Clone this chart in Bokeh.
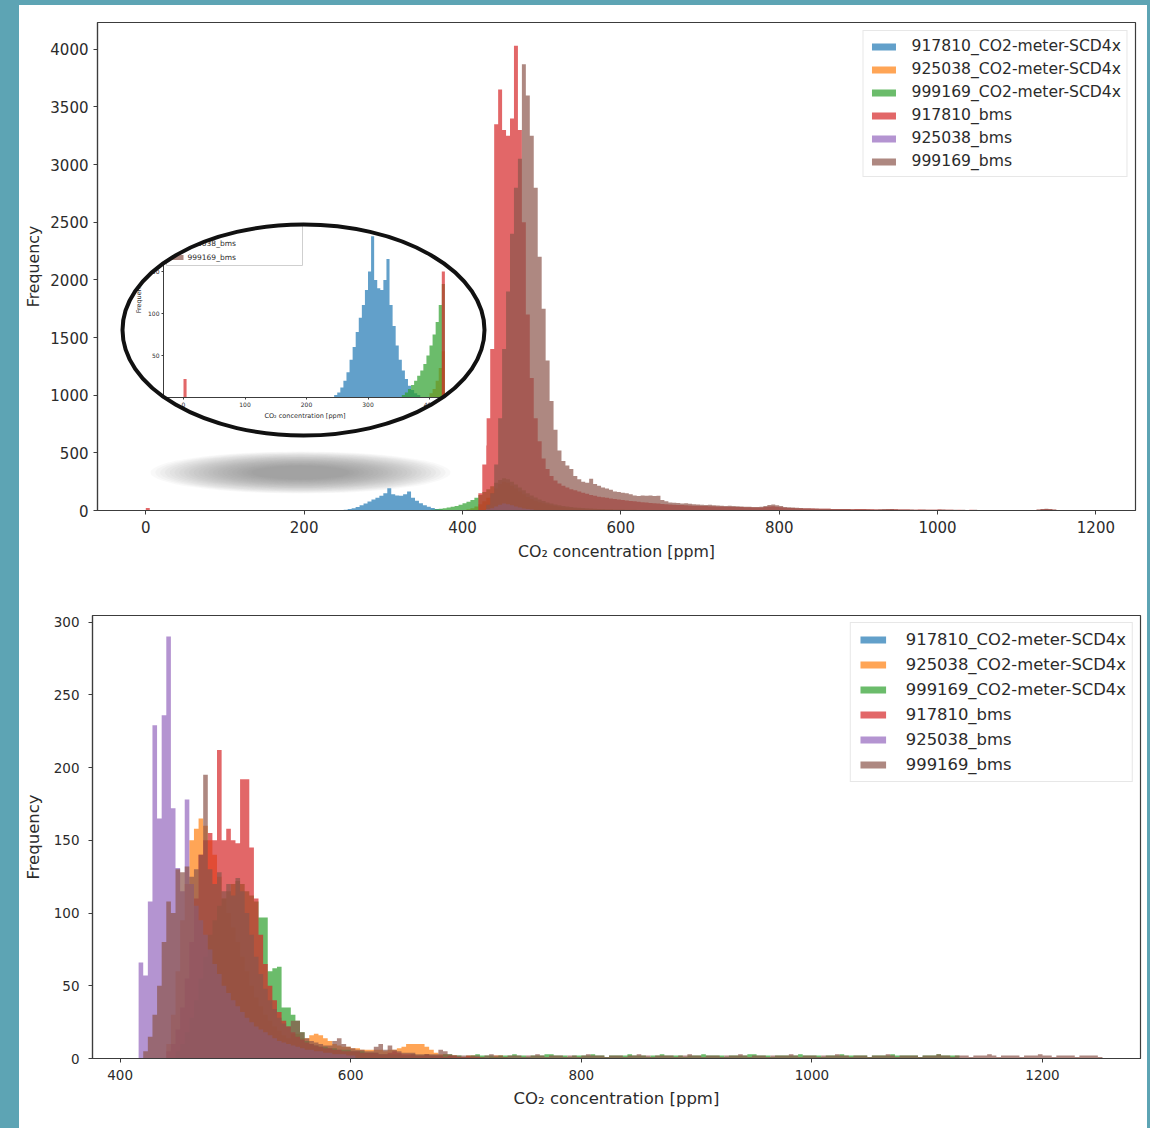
import numpy as np
from bokeh.plotting import figure
from bokeh.models import Range1d, LinearAxis, FixedTicker, Legend, LegendItem
from bokeh.embed import file_html
from bokeh.resources import INLINE
from bokeh.core.properties import value

# ---------------- data ----------------
series_labels = ["917810_CO2-meter-SCD4x", "925038_CO2-meter-SCD4x", "999169_CO2-meter-SCD4x",
                 "917810_bms", "925038_bms", "999169_bms"]
series_colors = ["#1f77b4", "#ff7f0e", "#2ca02c", "#d62728", "#9467bd", "#8c564b"]
x_label = "CO\u2082 concentration [ppm]"
y_label = "Frequency"

# top histogram (bin width 5 ppm), each series: first bin edge + counts
top_bin_width = 5
blue_top_start = 245
blue_top = [3, 6, 12, 20, 30, 45, 60, 78, 95, 110, 128, 150, 192, 140, 130, 128, 140, 165, 110, 85,
            62, 45, 32, 22, 14, 9, 5, 3]
orange_top_start = 400
orange_top = [5, 10, 20, 35, 55, 80, 110, 150, 190, 230, 250, 240, 215, 190, 165, 140, 118, 100, 85, 72,
              62, 53, 45, 38, 33, 28, 24, 20, 17, 15, 13, 11, 10, 9, 8, 7, 6, 6, 5, 5, 4, 4, 3, 3, 3, 2, 2, 2]
green_top_start = 355
green_top = [3, 6, 10, 15, 20, 26, 32, 40, 50, 62, 75, 90, 110, 135, 160, 185, 210, 240, 265, 280,
             270, 250, 225, 200, 175, 150, 130, 112, 95, 82, 70, 60, 52, 45, 40, 35, 30, 27, 24, 21,
             19, 17, 15, 13, 12, 11, 10, 9, 8, 8, 7, 6, 6, 5, 5, 4, 4, 3, 3, 3, 2, 2]
red_top_start = 0
red_top = [22] + [0] * 83 + [
    150, 400, 800, 1400, 3350, 3650, 3300, 3250, 3400, 4030, 3300, 2500, 1700, 1150, 800, 600, 450, 360,
    300, 260, 235, 215, 200, 185, 175, 165, 155, 145, 135, 128, 120, 115, 110, 105, 100, 95, 90,
    86, 82, 80, 76, 72, 70, 66, 63, 60, 57, 55, 52, 50, 48, 47, 45, 44, 42, 41, 40, 38, 37, 36, 35,
    34, 33, 32, 31, 30, 30, 29, 28, 27, 27, 26, 30, 34, 36, 32, 28, 24, 22, 21, 20, 19, 18, 18, 17,
    16, 16, 15, 15, 14, 13, 13, 12, 12, 11, 12, 14, 12, 10, 10, 9, 9, 9, 10, 12, 11, 9, 8, 8, 7, 7,
    8, 7, 6, 6, 7, 8, 7, 6, 6, 5, 6, 5, 5, 6, 5, 4, 5, 4, 4, 5, 4, 4, 3, 4, 3, 3, 4, 3, 3, 4, 6, 10,
    12, 10, 6, 3]
purple_top_start = 430
purple_top = [10, 20, 35, 50, 60, 55, 45, 35, 25, 18, 12, 8, 5, 3]
brown_top_start = 430
brown_top = [50, 150, 400, 800, 1400, 1900, 2400, 2800, 3050, 3870, 3600, 3250, 2800, 2200, 1750, 1300,
             950, 700, 520, 430, 390, 360, 300, 270, 250, 240, 276, 230, 215, 200, 190, 180, 165, 160,
             155, 150, 140, 130, 125, 130, 128, 130, 125, 128, 90, 80, 70, 68, 65, 60, 62, 58, 55, 52,
             50, 48, 50, 46, 44, 42, 40, 42, 38, 36, 35, 33, 32, 30, 30, 32, 40, 48, 52, 45, 38, 30, 28,
             26, 24, 22, 20, 20, 18, 18, 16, 15, 15, 14, 14, 13, 12, 12, 11, 11, 10, 10, 10, 9, 9, 10,
             12, 14, 12, 10, 9, 8, 8, 8, 7, 7, 8, 7, 6, 7, 9, 8, 7, 6, 6, 5, 6, 5, 5, 6, 5, 4, 5, 4, 4,
             5, 4, 4, 3, 4, 3, 3, 4, 3, 4, 8, 14, 16, 12, 8, 4, 2]

# bottom histogram (bin width 4 ppm)
bot_bin_width = 4
blue_bot_start = 416
blue_bot = []
orange_bot_start = 440
orange_bot = [10, 30, 60, 95, 120, 150, 158, 165, 160, 150, 140, 125, 110, 100, 90, 80, 70, 60, 50, 42,
              36, 30, 26, 22, 19, 16, 14, 17, 17, 14, 14, 16, 17, 16, 14, 12, 10, 9, 8, 8, 7, 7, 6, 6,
              6, 6, 6, 5, 6, 6, 7, 8, 10, 10, 10, 10, 8, 6, 4, 3, 3, 2, 2, 1, 0, 1, 2, 1, 1, 0, 1, 2, 2, 1]
green_bot_start = 448
green_bot = [5, 10, 18, 28, 40, 55, 70, 85, 95, 105, 110, 115, 120, 122, 120, 115, 112, 108, 97, 97,
             60, 62, 63, 35, 35, 30, 26, 18, 12, 10, 9, 8, 8, 7, 7, 6, 6, 6, 5, 5, 5, 4, 4, 4, 3, 3, 3,
             3, 3, 2,
             2, 3, 2, 2, 3, 2, 2, 2, 3, 3, 2, 2, 1, 2, 2, 3, 2, 2, 2, 1, 2, 2, 2, 3, 2, 2, 1, 2, 2, 2,
             3, 3, 2, 2, 2, 1, 2, 2, 2, 2, 3, 2, 2, 1, 2, 2, 2, 2, 3, 2, 2, 2, 1, 2, 2, 3, 2, 2, 2, 2,
             1, 2, 2, 2, 3, 2, 2, 2, 2, 1, 2, 2, 2, 2, 3, 3, 2, 2, 2, 1, 2, 2, 2, 2, 2, 3, 2, 2, 2, 2,
             1, 2, 2, 2, 3, 2, 2, 2, 2, 2, 1, 2, 2, 2, 2, 3, 2, 2, 2, 2, 2, 1, 2, 2, 2, 3, 2, 2, 2, 2]
red_bot_start = 440
red_bot = [5, 10, 20, 35, 55, 80, 110, 140, 150, 155, 150, 212, 150, 158, 150, 148, 192, 192, 145, 110,
           85, 65, 50, 40, 32, 26, 22, 18, 15, 13, 11, 10, 9, 8, 7, 7, 6, 6, 5, 5, 5, 5, 4, 4, 4, 4, 3,
           3, 4, 5, 4, 3, 3, 3, 2, 2, 3, 2, 2, 2, 1, 2, 2, 1, 1, 2, 1, 1]
purple_bot_start = 416
purple_bot = [66, 57, 108, 229, 165, 236, 290, 172, 131, 115, 178, 120, 105, 95, 85, 75, 65, 58, 50, 45,
              40, 36, 32, 28, 25, 22, 20, 18, 16, 14, 12, 11, 10, 9, 8, 7, 6, 6, 5, 5, 4, 4, 3, 3, 3, 2, 2]
brown_bot_start = 420
brown_bot = [5, 15, 30, 50, 80, 108, 100, 130, 128, 132, 125, 130, 140, 195, 130, 120, 128, 115, 120, 112,
             124, 115, 100, 85, 70, 58, 48, 40, 34, 28, 24, 22, 26, 26, 18, 14, 12, 11, 10, 9, 9, 12,
             14, 10, 8, 7, 6, 6, 5, 5, 8, 10, 6, 9, 6, 5, 4, 4, 4, 3, 3, 3, 3, 3, 6, 5, 3, 2,
             2, 2, 1, 2, 2, 1, 2, 3, 2, 2, 1, 2, 2, 2, 1, 2, 2, 3, 2, 1, 2, 2, 2, 1, 2, 2, 1, 2, 3, 2,
             2, 2, 1, 2, 2, 2, 1, 2, 2, 3, 2, 2, 1, 2, 2, 2, 2, 1, 2, 2, 3, 2, 2, 1, 2, 2, 2, 1, 2, 2,
             2, 3, 2, 1, 2, 2, 2, 1, 2, 2, 2, 2, 3, 2, 1, 2, 2, 2, 1, 2, 2, 2, 3, 2, 2, 1, 2, 2, 2, 1,
             2, 2, 2, 3, 2, 1, 2, 2, 2, 2, 1, 2, 2, 2, 3, 2, 2, 1, 2, 2, 2, 1, 2, 2, 2, 3, 2, 1, 2, 2,
             2, 2, 1, 2, 2, 2, 3, 2, 2, 1, 2, 2, 2, 2, 1, 2, 2, 2, 2, 1]

top_x_ticks = [0, 200, 400, 600, 800, 1000, 1200]
top_y_ticks = [0, 500, 1000, 1500, 2000, 2500, 3000, 3500, 4000]
bot_x_ticks = [400, 600, 800, 1000, 1200]
bot_y_ticks = [0, 50, 100, 150, 200, 250, 300]
inset_x_ticks = [0, 100, 200, 300, 400]
inset_y_ticks = [50, 100, 150, 200]
inset_max_ppm = 425

top_series = [(blue_top_start, blue_top), (orange_top_start, orange_top), (green_top_start, green_top),
              (red_top_start, red_top), (purple_top_start, purple_top), (brown_top_start, brown_top)]
bot_series = [(blue_bot_start, blue_bot), (orange_bot_start, orange_bot), (green_bot_start, green_bot),
              (red_bot_start, red_bot), (purple_bot_start, purple_bot), (brown_bot_start, brown_bot)]

# ---------------- style ----------------
FONT = "DejaVu Sans"
TXT = "#2b2b2b"
SPINE = "#3c3c3c"
ALPHA = 0.7
TEAL = "#5da4b4"


def step_xy(start, width, counts):
    xs = [start + width * i for i in range(len(counts) + 1)]
    ys = list(counts) + [0]
    return xs, ys


def style_axis(ax, ticks, fs, standoff, label, label_fs, label_standoff, tick_len=4):
    ax.ticker = FixedTicker(ticks=ticks, minor_ticks=[])
    ax.axis_line_color = SPINE
    ax.axis_line_width = 1.2
    ax.major_tick_line_color = SPINE
    ax.major_tick_line_width = 1
    ax.major_tick_out = tick_len
    ax.major_tick_in = 0
    ax.minor_tick_line_color = None
    ax.major_label_text_font = FONT
    ax.major_label_text_font_size = fs
    ax.major_label_text_color = TXT
    ax.major_label_standoff = standoff
    ax.axis_label = label
    ax.axis_label_text_font = FONT
    ax.axis_label_text_font_size = label_fs
    ax.axis_label_text_font_style = "normal"
    ax.axis_label_text_color = TXT
    ax.axis_label_standoff = label_standoff


def make_fig(width, height, xr, yr, borders):
    p = figure(width=width, height=height, x_range=Range1d(*xr), y_range=Range1d(*yr),
               output_backend="svg", toolbar_location=None, tools="",
               min_border_left=borders[0], min_border_right=borders[1],
               min_border_top=borders[2], min_border_bottom=borders[3],
               background_fill_color="white", border_fill_color="white")
    p.grid.visible = False
    p.outline_line_color = SPINE
    p.outline_line_width = 1.2
    return p


def draw_hist(p, series, width, max_edge=None, **kw):
    rends = []
    for (start, counts), col in zip(series, series_colors):
        c = list(counts)
        if max_edge is not None:
            c = [v for i, v in enumerate(c) if start + width * i < max_edge]
        xs, ys = step_xy(start, width, c)
        r = p.varea_step(x=xs, y1=0, y2=ys, step_mode="after", fill_color=col,
                         fill_alpha=ALPHA, **kw)
        rends.append(r)
    return rends


def main_legend(p, rends, fs, gw, gh, standoff, lh, spacing, padding, margin):
    leg = Legend(items=[LegendItem(label=l, renderers=[r]) for l, r in zip(series_labels, rends)],
                 location="top_right")
    leg.label_text_font = FONT
    leg.label_text_font_size = fs
    leg.label_text_color = TXT
    leg.glyph_width = gw
    leg.glyph_height = gh
    leg.label_standoff = standoff
    leg.label_height = lh
    leg.spacing = spacing
    leg.padding = padding
    leg.margin = margin
    leg.border_line_color = "#cfcfcf"
    leg.border_line_width = 1
    leg.background_fill_color = "white"
    leg.background_fill_alpha = 0.85
    p.add_layout(leg)


# ---------------- top chart ----------------
p1 = make_fig(1128, 580, (-61, 1250), (0, 4232), (78, 12, 17, 75))
style_axis(p1.xaxis[0], top_x_ticks, "15px", 6, x_label, "15.8px", 6)
style_axis(p1.yaxis[0], top_y_ticks, "15px", 5, y_label, "15.8px", 4)

# inset coordinate system and a frame-pixel coordinate system for decorations
p1.extra_x_ranges = {"inset": Range1d(-139.84, 1547.97), "px": Range1d(0, 1038)}
p1.extra_y_ranges = {"inset": Range1d(-134.52, 446.43), "px": Range1d(0, 488)}

# blurred shadow under the magnifier
n_sh = 22
for i in range(n_sh):
    f = 1 - 0.032 * i
    p1.ellipse(x=[203], y=[38], width=[300 * f], height=[42 * f], fill_color="#787878",
               fill_alpha=0.042, line_color=None, x_range_name="px", y_range_name="px",
               level="underlay")

top_rends = draw_hist(p1, top_series, top_bin_width)
main_legend(p1, top_rends, "15.6px", 30, 9, 13, 20, 3, 5, 8)

# inset (zoomed view 0-425 ppm)
inset_rends = draw_hist(p1, top_series, top_bin_width, max_edge=inset_max_ppm,
                        x_range_name="inset", y_range_name="inset")
ix = LinearAxis(x_range_name="inset", y_range_name="inset", fixed_location=0, bounds=(-32.5, 428))
style_axis(ix, inset_x_ticks, "6px", 2, x_label, "6.5px", 2, tick_len=2)
ix.axis_line_width = 1
p1.add_layout(ix, "below")
iy = LinearAxis(x_range_name="inset", y_range_name="inset", fixed_location=-32.5, bounds=(0, 240))
style_axis(iy, inset_y_ticks, "6px", 2, y_label, "6.5px", 2, tick_len=2)
iy.axis_line_width = 1
p1.add_layout(iy, "left")

# inset legend (drawn as glyphs so that the lens mask clips it)
n_lab = len(series_labels)
row_y = [510 - (187 + 14 * i) for i in range(n_lab)]
p1.rect(x=[137], y=[288], width=[136], height=[86], fill_color="white", line_color="#cfcfcf",
        line_width=1, x_range_name="px", y_range_name="px")
p1.rect(x=[79] * n_lab, y=row_y, width=[14] * n_lab, height=[5] * n_lab, fill_color=series_colors,
        fill_alpha=ALPHA, line_color=None, x_range_name="px", y_range_name="px")
p1.text(x=[90] * n_lab, y=row_y, text=series_labels, text_font=value(FONT),
        text_font_size=value("7.5px"), text_baseline="middle", text_color=TXT,
        x_range_name="px", y_range_name="px")

# white mask outside the magnifier lens, then the lens outline
t = np.linspace(0, 2 * np.pi, 241)
ell_x = list(206 + 181 * np.cos(t))
ell_y = list(180.5 + 105.5 * np.sin(t))
rect_x = [8, 389, 389, 8]
rect_y = [65, 65, 440, 440]
p1.multi_polygons(xs=[[[rect_x, ell_x]]], ys=[[[rect_y, ell_y]]], fill_color="white",
                  line_color=None, x_range_name="px", y_range_name="px", level="overlay")
p1.ellipse(x=[206], y=[180.5], width=[362], height=[211], fill_color=None, line_color="#111111",
           line_width=4, x_range_name="px", y_range_name="px", level="overlay")

# ---------------- bottom chart ----------------
p2 = make_fig(1128, 543, (376, 1285), (0, 304.5), (73, 7, 30, 70))
style_axis(p2.xaxis[0], bot_x_ticks, "13.5px", 7, x_label, "16.5px", 6)
style_axis(p2.yaxis[0], bot_y_ticks, "13.5px", 9, y_label, "16.5px", 8)
bot_rends = draw_hist(p2, bot_series, bot_bin_width)
main_legend(p2, bot_rends, "16.4px", 32, 9, 17, 21, 4, 6, 7)

html = file_html([p1, p2], INLINE, title="CO2 concentration histograms")
page_css = ("<style>html, body { background-color: #ffffff; } "
            "body { border-style: solid; border-color: %s; border-width: 5px 3px 0 19px; "
            "box-sizing: border-box; }</style>" % TEAL)
html = html.replace("</head>", page_css + "</head>", 1)
open("out.html", "w").write(html)
